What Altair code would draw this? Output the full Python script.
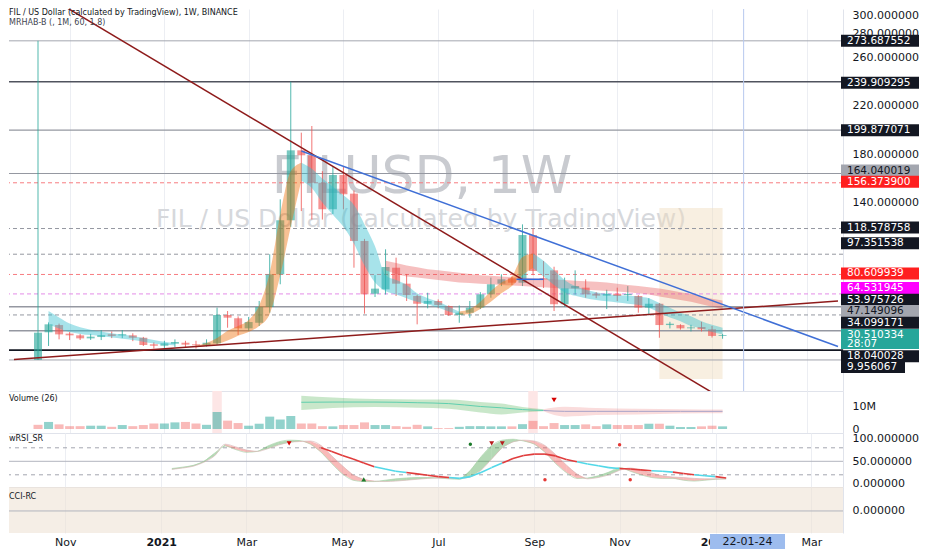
import altair as alt
import pandas as pd

# ------------------------------------------------------------------ data
FIRST_BAR = "2020-10-12"          # first weekly bar (Monday)

opens = [10.0, 32.8, 38.8, 31.7, 30.3, 27.8, 28.9, 31.2, 30.2, 30.3,
         28.3, 22.9, 21.7, 23.4, 24.2, 22.9, 22.3, 23.7, 47.1, 44.4,
         36.1, 40.7, 53.7, 80.7, 125.4, 183.2, 179.1, 156.4, 134.5, 162.8,
         147.4, 108.3, 64.7, 68.3, 86.2, 73.0, 62.8, 56.4, 58.7, 54.5,
         47.1, 49.0, 53.2, 64.2, 73.0, 77.4, 73.8, 113.2, 77.5, 84.0,
         56.0, 69.2, 69.7, 64.7, 63.1, 64.7, 63.5, 62.8, 53.2, 56.4,
         38.8, 38.8, 36.1, 37.2, 35.3, 29.8]
closes = [32.5, 39.4, 31.1, 30.3, 27.8, 29.2, 30.5, 29.8, 31.2, 28.3,
          22.3, 21.7, 23.7, 24.8, 22.6, 22.1, 24.2, 47.1, 44.9, 36.1,
          41.3, 53.7, 80.7, 125.4, 183.2, 179.1, 156.4, 134.5, 162.8, 146.9,
          108.3, 64.2, 68.9, 86.8, 73.0, 63.6, 56.4, 58.7, 55.4, 47.1,
          49.0, 53.2, 64.2, 72.5, 76.6, 73.8, 113.2, 83.5, 76.5, 56.0,
          69.2, 71.1, 64.2, 63.1, 64.7, 62.8, 64.5, 53.2, 56.4, 38.8,
          39.9, 36.1, 36.9, 35.3, 29.8, 30.51]
highs = [273.69, 41.0, 40.0, 33.0, 31.5, 31.5, 34.7, 33.5, 34.7, 32.0,
         29.0, 24.5, 25.8, 27.0, 25.8, 25.8, 27.0, 53.2, 50.4, 46.0,
         45.5, 58.7, 97.3, 142.7, 239.9, 197.8, 203.3, 166.0, 170.0, 170.0,
         150.0, 110.0, 80.0, 101.4, 94.5, 81.0, 64.0, 65.5, 60.0, 55.0,
         55.0, 58.7, 66.0, 78.0, 80.7, 79.0, 122.0, 118.6, 91.7, 87.0,
         78.0, 84.0, 76.6, 66.0, 68.0, 69.7, 71.0, 63.5, 61.0, 57.0,
         41.5, 39.5, 39.0, 41.5, 38.0, 31.5]
lows = [9.96, 21.5, 27.0, 26.4, 26.5, 26.5, 26.4, 28.0, 28.0, 25.5,
        21.5, 19.4, 19.4, 20.5, 20.5, 19.4, 21.0, 22.5, 36.6, 30.6,
        34.0, 38.0, 49.0, 72.5, 120.0, 133.0, 126.0, 126.0, 130.6, 134.5,
        86.2, 48.2, 62.0, 64.0, 62.8, 58.7, 39.4, 52.6, 52.6, 46.3,
        40.7, 44.9, 52.0, 61.4, 71.0, 72.0, 71.0, 80.0, 69.4, 50.4,
        54.0, 64.0, 61.4, 61.0, 52.0, 58.7, 58.7, 49.0, 47.0, 28.3,
        36.0, 35.0, 33.5, 33.5, 28.5, 27.5]

volumes_m = [1.9, 3.2, 2.1, 1.3, 1.3, 1.5, 1.5, 1.0, 1.8, 1.3,
             1.8, 2.5, 2.5, 3.0, 3.2, 2.5, 1.9, 7.7, 3.8, 2.7,
             1.5, 2.4, 5.6, 4.3, 5.9, 2.5, 2.5, 1.3, 1.2, 1.8,
             1.8, 3.0, 1.8, 1.8, 1.3, 1.0, 1.9, 1.2, 0.4, 0.4,
             1.0, 1.3, 1.3, 1.2, 1.2, 1.2, 2.2, 3.7, 1.3, 2.7,
             1.8, 1.8, 2.1, 1.3, 2.1, 1.8, 1.8, 1.8, 2.4, 2.4,
             1.5, 0.9, 0.9, 1.2, 1.5, 1.2]
vol_rising = [0, 1, 0, 0, 0, 1, 1, 0, 1, 0,
              0, 0, 1, 1, 0, 0, 1, 1, 0, 0,
              1, 1, 1, 1, 1, 0, 0, 0, 1, 0,
              0, 0, 1, 1, 0, 0, 0, 1, 0, 0,
              1, 1, 1, 1, 1, 0, 1, 0, 0, 0,
              1, 1, 0, 0, 1, 0, 0, 0, 1, 0,
              1, 1, 1, 0, 0, 1]

# fast MA ribbon segments (bar index, low edge, high edge)
rib_a_idx = list(range(1, 14))
rib_a_lo = [39.5, 36.0, 33.0, 31.5, 30.5, 29.5, 28.5, 27.5, 26.5, 25.0, 23.5, 22.5, 22.0]
rib_a_hi = [50.4, 45.0, 40.0, 37.0, 35.0, 33.5, 32.0, 31.0, 29.8, 28.0, 26.5, 25.0, 24.0]
rib_b_idx = list(range(15, 26))
rib_b_lo = [20.5, 21.5, 23.0, 26.0, 30.0, 33.0, 38.0, 48.0, 80.0, 120.0, 158.0]
rib_b_hi = [22.0, 24.0, 28.0, 34.0, 38.0, 43.0, 55.0, 82.0, 130.0, 166.0, 173.0]
rib_c_idx = list(range(25, 41))
rib_c_lo = [158, 152, 140, 130, 120, 106, 88, 74, 67, 64, 61, 58, 56, 53, 50, 47.5]
rib_c_hi = [173, 168, 160, 153, 146, 138, 122, 104, 80, 76, 72, 65, 61, 58, 54, 50]
rib_d_idx = list(range(40, 48))
rib_d_lo = [47.5, 48, 52, 58, 65, 71, 80, 86]
rib_d_hi = [50, 52, 58, 67, 74, 79, 95, 98]
rib_e_idx = list(range(47, 66))
rib_e_lo = [86, 79, 72, 66, 63, 61, 59.5, 58.5, 57.5, 56.5, 55.5, 53, 49, 45, 42, 38, 36, 33, 31]
rib_e_hi = [98, 92, 84, 76, 71, 68, 66, 64.5, 63.5, 63, 62.5, 61, 57, 53, 49, 46, 42, 39, 36.5]

# slow MA band
slow_idx = list(range(33, 66))
slow_lo = [84, 81, 79, 78, 77, 76, 75, 74, 73.5, 73, 72.5, 72, 71.5, 71, 70.5, 70, 69.5,
           69, 68.5, 68, 67.5, 67, 66.5, 66, 65, 64, 62.5, 61, 59.5, 58, 56, 54, 52]
slow_hi = [92, 90, 88, 86.5, 85, 84, 83, 82, 81, 80, 79.5, 79, 78.5, 78, 77.5, 77, 76.5,
           76, 75.5, 75, 74.5, 74, 73, 72, 71, 70, 69, 67.5, 66, 64.5, 62.5, 60.5, 59]

# horizontal price levels
level_values = [273.687552, 239.909295, 199.877071, 164.040019, 156.3739, 118.578758,
                97.351538, 80.609939, 64.531945, 53.975726, 47.149096, 34.099171,
                18.040028, 9.956067]
level_labels = ["273.687552", "239.909295", "199.877071", "164.040019", "156.373900",
                "118.578758", "97.351538", "80.609939", "64.531945", "53.975726",
                "47.149096", "34.099171", "18.040028", "9.956067"]
level_dashed = [False, False, False, False, True, True, True, True, True, False,
                True, False, False, False]
level_line_colors = ["#a3a6af", "#50535e", "#9598a1", "#9598a1", "#f77c80", "#9598a1",
                     "#9598a1", "#f77c80", "#e58ce8", "#9598a1", "#9598a1", "#9598a1",
                     "#131722", "#a3a6af"]
level_line_widths = [1, 1.6, 1.4, 1, 1, 1, 1, 1, 1, 1.4, 1, 1.4, 1.6, 1]
level_box_colors = ["#131722", "#131722", "#131722", "#a3a6af", "#ff1f1f", "#131722",
                    "#131722", "#ff1f1f", "#ff00ff", "#131722", "#a3a6af", "#131722",
                    "#131722", "#131722"]
level_text_colors = ["#ffffff", "#ffffff", "#ffffff", "#131722", "#ffffff", "#ffffff",
                     "#ffffff", "#ffffff", "#ffffff", "#ffffff", "#131722", "#ffffff",
                     "#ffffff", "#ffffff"]
level_label_shift_px = [0, 1, 0, -3, -1, -1, -11, -1, -6, -7, -4, -8, 6, 7]

last_price = 30.510334
last_price_label = "30.510334"
countdown_label = "28:07"

# trend lines (two anchors each)
trend_a_dates = ["2021-04-05", "2020-10-12", "2021-04-05", "2021-08-26"]
trend_a_prices = [185.5, 11.8, 182.6, 76.6]
trend_b_dates = ["2021-12-27", "2022-01-10", "2022-01-10", "2021-09-13"]
trend_b_prices = [-11.7, 51.9, 55.8, 76.6]
trend_colors = ["#8e1b1b", "#8e1b1b", "#3f6fd6", "#2f6ae0"]
trend_extend_left = [True, True, False, False]
trend_extend_right = [True, True, True, False]

highlight_box = {"from_bar": 59, "to_bar": 65, "low": -5.8, "high": 135.5}
crosshair_bar = 67
crosshair_label = "22-01-24"

# volume MA bands
vb_green_idx = [25, 28, 32, 36, 39, 42, 44, 46, 48]
vb_green_lo = [8.6, 9.5, 10.0, 9.6, 9.2, 7.5, 6.6, 7.5, 8.0]
vb_green_hi = [15.1, 14.3, 13.6, 13.4, 13.3, 12.2, 11.5, 10.0, 9.0]
vb_green_mid = [12.1, 12.2, 12.2, 11.9, 11.5, 10.2, 9.6, 8.8, 8.4]
vb_pink_idx = [48, 50, 53, 57, 61, 65]
vb_pink_lo = [8.0, 5.6, 6.3, 6.6, 7.0, 7.1]
vb_pink_hi = [9.0, 10.1, 9.5, 9.2, 9.0, 8.8]
vb_pink_mid = [8.4, 8.0, 8.0, 8.0, 8.0, 8.0]
vol_highlight_bars = [17, 47]
vol_marker = {"bar": 49, "value": 13.1}

# wRSI
rsi_idx = list(range(13, 66))
rsi_fast = [34, 37, 41, 50, 68, 84, 76, 70, 72, 84, 93, 97, 96, 88, 70, 45, 22, 8, 5, 5,
            8, 11, 13, 14, 14, 13, 11, 10, 30, 60, 85, 97, 99, 95, 88, 70, 45, 25, 12, 13,
            18, 26, 36, 28, 20, 14, 12, 12, 8, 6, 8, 10, 11]
rsi_slow = [32, 35, 39, 48, 62, 88, 82, 75, 72, 78, 86, 92, 94, 95, 85, 62, 40, 20, 10, 6,
            5, 6, 8, 10, 12, 13, 13, 12, 15, 30, 55, 80, 93, 97, 95, 85, 65, 42, 22, 11,
            14, 20, 30, 35, 30, 24, 18, 15, 14, 12, 11, 11, 11]
sig_idx = list(range(27, 66))
sig_vals = [80, 72, 63, 55, 46, 38, 33, 28, 25, 22, 19, 16, 14, 12, 16, 25, 36, 46, 56, 63,
            66, 66, 62, 54, 49, 44, 40, 36, 34, 33, 31, 29, 28, 26, 23, 20, 18, 16, 13]
sig_seg_colors = (["r"] * 5 + ["c"] * 3 + ["r"] * 4 + ["c"] * 5 + ["r"] * 7 + ["c"] * 4 +
                  ["r"] * 3 + ["c"] * 2 + ["r"] * 2 + ["c"] * 2 + ["r"] * 1)
rsi_mark_bars = [24, 31, 41, 43, 44, 48, 55, 56]
rsi_mark_vals = [90, 10, 88, 90, 90, 9, 87, 9]
rsi_mark_shapes = ["triangle-down", "triangle-up", "circle", "triangle-down",
                   "triangle-down", "circle", "circle", "circle"]
rsi_mark_colors = ["#d50000", "#1b7a2a", "#1b7a2a", "#b71c1c", "#b71c1c",
                   "#e53935", "#e53935", "#e53935"]

month_ticks = ["2020-11-02", "2021-01-04", "2021-03-01", "2021-05-03", "2021-07-05",
               "2021-09-06", "2021-11-01", "2022-01-03", "2022-03-07"]
price_ticks = [140, 180, 220, 260, 280, 300]

TITLE1 = "FIL / US Dollar (calculated by TradingView), 1W, BINANCE"
TITLE2 = "MRHAB-B (, 1M, 60, 1.8)"
WATERMARK1 = "FILUSD, 1W"
WATERMARK2 = "FIL / US Dollar (calculated by TradingView)"

# ------------------------------------------------------------------ helpers / style
FONT = "DejaVu Sans"
TXT = "#131722"
GRID = "#eceef3"
SEP = "#e0e3eb"
GREEN = "#26a69a"
RED = "#ef5350"

W = 834
H_MAIN, H_VOL, H_RSI, H_CCI = 382, 42, 54, 46
P_DOM = [-15.7, 300.0]
V_DOM = [-1.8, 17.2]
R_DOM = [-7.1, 112.9]
C_DOM = [-92.0, 100.0]
X_BAR_RANGE = [-2.28, 75.96]

BASE = pd.Timestamp(FIRST_BAR)


def bar_ms(i):
    return int((BASE + pd.Timedelta(days=7 * i)).value // 1_000_000)


def day_ms(s):
    return int(pd.Timestamp(s).value // 1_000_000)


X0, X1 = bar_ms(X_BAR_RANGE[0]), bar_ms(X_BAR_RANGE[1])
xscale = alt.Scale(type="utc", domain=[X0, X1], nice=False)
tick_ms = [day_ms(d) for d in month_ticks]


def xhid():
    return alt.Axis(values=tick_ms, labels=False, ticks=False, domain=True,
                    domainColor=SEP, grid=True, gridColor=GRID, title=None)


def xbottom():
    return alt.Axis(values=tick_ms,
                    labelExpr="utcmonth(datum.value) == 0 ? utcFormat(datum.value, '%Y') : utcFormat(datum.value, '%b')",
                    labelFontWeight={"condition": {"test": "utcmonth(datum.value) == 0", "value": "bold"},
                                     "value": "normal"},
                    ticks=False, domain=False, grid=True, gridColor=GRID,
                    labelFont=FONT, labelFontSize=11, labelColor=TXT, labelPadding=3,
                    labelOverlap=False, labelFlush=False, title=None)


def yaxis(values, fmt=None, expr=None, flush=False):
    kw = dict(orient="right", values=values, ticks=False, grid=False, domain=True,
              domainColor=SEP, labelPadding=9, labelFont=FONT, labelFontSize=11,
              labelColor=TXT, title=None, labelFlush=flush, labelOverlap=False)
    if fmt:
        kw["format"] = fmt
    if expr:
        kw["labelExpr"] = expr
    return alt.Axis(**kw)


pscale = alt.Scale(domain=P_DOM, nice=False, zero=False)
vscale = alt.Scale(domain=V_DOM, nice=False, zero=False)
rscale = alt.Scale(domain=R_DOM, nice=False, zero=False)
cscale = alt.Scale(domain=C_DOM, nice=False, zero=False)

paxis = yaxis(price_ticks, fmt=".6f", flush=True)
vaxis = yaxis([0, 10], expr="datum.value == 0 ? '0' : datum.value + 'M'")
raxis = yaxis([0, 50, 100], fmt=".6f")
caxis = yaxis([0], fmt=".6f")


def X(field, axis_fn=xhid):
    return alt.X(field, type="temporal", scale=xscale, axis=axis_fn(), title=None)


def YP(field):
    return alt.Y(field, type="quantitative", scale=pscale, axis=paxis, stack=None)


def YV(field):
    return alt.Y(field, type="quantitative", scale=vscale, axis=vaxis, stack=None)


def YR(field):
    return alt.Y(field, type="quantitative", scale=rscale, axis=raxis, stack=None)


def one(**kw):
    return pd.DataFrame({k: [v] for k, v in kw.items()})


# ------------------------------------------------------------------ main panel
n = len(opens)
cd = pd.DataFrame({"t": [bar_ms(i) for i in range(n)], "o": opens, "h": highs,
                   "l": lows, "c": closes})
cd["col"] = [GREEN if c >= o else RED for o, c in zip(opens, closes)]

wm1 = alt.Chart(one(txt=WATERMARK1)).mark_text(
    font=FONT, fontSize=52, color="#c9cbd0", align="center", baseline="middle"
).encode(x=alt.value(413), y=alt.value(168), text="txt:N")
wm2 = alt.Chart(one(txt=WATERMARK2)).mark_text(
    font=FONT, fontSize=25, color="#d6d8dc", align="center", baseline="middle"
).encode(x=alt.value(412), y=alt.value(210), text="txt:N")

hb = one(t=bar_ms(highlight_box["from_bar"]), t2=bar_ms(highlight_box["to_bar"]),
         p=highlight_box["low"], p2=highlight_box["high"])
hbox = alt.Chart(hb).mark_rect(color="#f0dcbc", opacity=0.45).encode(
    x=X("t"), x2="t2:T", y=YP("p"), y2="p2:Q")

lv = pd.DataFrame({"p": level_values, "col": level_line_colors, "w": level_line_widths,
                   "dash": level_dashed})
lv_solid = alt.Chart(lv[~lv["dash"]]).mark_rule().encode(
    y=YP("p"), color=alt.Color("col:N", scale=None), size=alt.Size("w:Q", scale=None))
lv_dash = alt.Chart(lv[lv["dash"]]).mark_rule(strokeDash=[4, 3]).encode(
    y=YP("p"), color=alt.Color("col:N", scale=None), size=alt.Size("w:Q", scale=None))

wicks = alt.Chart(cd).mark_rule(strokeWidth=1, opacity=0.8).encode(
    x=X("t"), y=YP("l"), y2="h:Q", color=alt.Color("col:N", scale=None))
bodies = alt.Chart(cd).mark_bar(size=8, opacity=0.62).encode(
    x=X("t"), y=YP("o"), y2="c:Q", color=alt.Color("col:N", scale=None))

slow_df = pd.DataFrame({"t": [bar_ms(i) for i in slow_idx], "lo": slow_lo, "hi": slow_hi})
slow_band = alt.Chart(slow_df).mark_area(color="#e65050", opacity=0.36).encode(
    x=X("t"), y=YP("lo"), y2="hi:Q")

rib_rows = []
for seg, (idx, lo, hi, col) in enumerate([
        (rib_a_idx, rib_a_lo, rib_a_hi, "#2dbdcd"),
        (rib_b_idx, rib_b_lo, rib_b_hi, "#ef6c00"),
        (rib_c_idx, rib_c_lo, rib_c_hi, "#2dbdcd"),
        (rib_d_idx, rib_d_lo, rib_d_hi, "#ef6c00"),
        (rib_e_idx, rib_e_lo, rib_e_hi, "#2dbdcd")]):
    for i, a, b in zip(idx, lo, hi):
        rib_rows.append({"t": bar_ms(i), "lo": a, "hi": b, "seg": seg, "col": col})
rib_df = pd.DataFrame(rib_rows)
ribbon = alt.Chart(rib_df).mark_area(opacity=0.42, interpolate="monotone").encode(
    x=X("t"), y=YP("lo"), y2="hi:Q", color=alt.Color("col:N", scale=None),
    detail="seg:N")

tr_rows = []
for da, pa, db, pb, col, el, er in zip(trend_a_dates, trend_a_prices, trend_b_dates,
                                        trend_b_prices, trend_colors, trend_extend_left,
                                        trend_extend_right):
    ta, tb = day_ms(da), day_ms(db)
    slope = (pb - pa) / (tb - ta)
    t0 = X0 if el else ta
    t1 = X1 if er else tb
    tr_rows.append({"t": t0, "p": pa + slope * (t0 - ta), "t2": t1,
                    "p2": pa + slope * (t1 - ta), "col": col})
trends = alt.Chart(pd.DataFrame(tr_rows)).mark_rule(strokeWidth=1.5, clip=True).encode(
    x=X("t"), x2="t2:T", y=YP("p"), y2="p2:Q", color=alt.Color("col:N", scale=None))

cross = alt.Chart(one(t=bar_ms(crosshair_bar))).mark_rule(
    color="#b7c8ee", strokeWidth=1).encode(x=X("t"))

title1 = alt.Chart(one(txt=TITLE1)).mark_text(
    font=FONT, fontSize=8, color=TXT, align="left", baseline="top"
).encode(x=alt.value(0), y=alt.value(0), text="txt:N")
title2 = alt.Chart(one(txt=TITLE2)).mark_text(
    font=FONT, fontSize=8, color="#434651", align="left", baseline="top"
).encode(x=alt.value(0), y=alt.value(10), text="txt:N")

PPP = (P_DOM[1] - P_DOM[0]) / H_MAIN  # price units per pixel
pb_df = pd.DataFrame({"p": level_values, "lab": level_labels, "bg": level_box_colors,
                      "fg": level_text_colors, "shift": level_label_shift_px})
pb_df["disp"] = pb_df["p"] - pb_df["shift"] * PPP
pb_df["lo"] = pb_df["disp"] - 6 * PPP
pb_df["hi"] = pb_df["disp"] + 6 * PPP
pb_df["nlen"] = pb_df["lab"].str.len()
boxes_wide = alt.Chart(pb_df[pb_df["nlen"] >= 9]).mark_rect().encode(
    x=alt.value(832), x2=alt.value(910), y=YP("lo"), y2="hi:Q",
    color=alt.Color("bg:N", scale=None))
boxes_narrow = alt.Chart(pb_df[pb_df["nlen"] < 9]).mark_rect().encode(
    x=alt.value(832), x2=alt.value(896), y=YP("lo"), y2="hi:Q",
    color=alt.Color("bg:N", scale=None))
box_text = alt.Chart(pb_df).mark_text(
    font=FONT, fontSize=10.5, align="left", baseline="middle").encode(
    x=alt.value(838), y=YP("disp"), text="lab:N", color=alt.Color("fg:N", scale=None))

lp = pd.DataFrame({"lo": [last_price - 14 * PPP], "hi": [last_price + 6 * PPP]})
last_box = alt.Chart(lp).mark_rect(color=GREEN).encode(
    x=alt.value(832), x2=alt.value(910), y=YP("lo"), y2="hi:Q")
lt = pd.DataFrame({"p": [last_price, last_price - 8.5 * PPP],
                   "lab": [last_price_label, countdown_label]})
last_text = alt.Chart(lt).mark_text(
    font=FONT, fontSize=10.5, align="left", baseline="middle", color="#ffffff").encode(
    x=alt.value(838), y=YP("p"), text="lab:N")

main = alt.layer(wm1, wm2, hbox, lv_solid, lv_dash, wicks, bodies, slow_band, ribbon,
                 trends, cross, title1, title2, boxes_wide, boxes_narrow, box_text,
                 last_box, last_text).properties(width=W, height=H_MAIN)

# ------------------------------------------------------------------ volume panel
vd = pd.DataFrame({"t": [bar_ms(i) for i in range(n)], "v": volumes_m})
vd["col"] = [GREEN if r else RED for r in vol_rising]
vd["op"] = [0.5 if r else 0.4 for r in vol_rising]
hl = pd.DataFrame({"t": [bar_ms(b - 0.45) for b in vol_highlight_bars],
                   "t2": [bar_ms(b + 0.45) for b in vol_highlight_bars]})
vol_hl = alt.Chart(hl).mark_rect(color="#fde6e6").encode(
    x=X("t"), x2="t2:T", y=alt.value(0), y2=alt.value(H_VOL))
vol_bars = alt.Chart(vd).mark_bar(size=9).encode(
    x=X("t"), y=YV("v"), color=alt.Color("col:N", scale=None),
    opacity=alt.Opacity("op:Q", scale=None))
vb_rows = []
for seg, (idx, lo, hi, mid, fill, line) in enumerate([
        (vb_green_idx, vb_green_lo, vb_green_hi, vb_green_mid, "#4caf50", "#5fcfae"),
        (vb_pink_idx, vb_pink_lo, vb_pink_hi, vb_pink_mid, "#ef8a8a", "#a8a3c8")]):
    for i, a, b, m in zip(idx, lo, hi, mid):
        vb_rows.append({"t": bar_ms(i), "lo": a, "hi": b, "mid": m, "seg": seg,
                        "fill": fill, "line": line})
vb_df = pd.DataFrame(vb_rows)
vol_band = alt.Chart(vb_df).mark_area(opacity=0.3, interpolate="monotone").encode(
    x=X("t"), y=YV("lo"), y2="hi:Q", color=alt.Color("fill:N", scale=None),
    detail="seg:N")
vol_mid = alt.Chart(vb_df).mark_line(strokeWidth=1, interpolate="monotone").encode(
    x=X("t"), y=YV("mid"), color=alt.Color("line:N", scale=None), detail="seg:N")
vol_mk = alt.Chart(one(t=bar_ms(vol_marker["bar"]), v=vol_marker["value"])).mark_point(
    shape="triangle-down", filled=True, size=28, color="#d50000", opacity=1).encode(
    x=X("t"), y=YV("v"))
vol_lab = alt.Chart(one(txt="Volume (26)")).mark_text(
    font=FONT, fontSize=8, color=TXT, align="left", baseline="middle").encode(
    x=alt.value(0), y=alt.value(8), text="txt:N")
vol = alt.layer(vol_hl, vol_bars, vol_band, vol_mid, vol_mk, vol_lab).properties(
    width=W, height=H_VOL)

# ------------------------------------------------------------------ wRSI panel
rl = pd.DataFrame({"v": [80, 20]})
r_dash = alt.Chart(rl).mark_rule(strokeDash=[4, 4], color="#a3a6af", strokeWidth=1).encode(
    y=YR("v"))
r_mid = alt.Chart(one(v=50)).mark_rule(color="#b2b5be", strokeWidth=1).encode(y=YR("v"))

rr = []
for k in range(len(rsi_idx) - 1):
    up = (rsi_fast[k] + rsi_fast[k + 1]) >= (rsi_slow[k] + rsi_slow[k + 1])
    for j in (k, k + 1):
        rr.append({"t": bar_ms(rsi_idx[j]), "a": rsi_fast[j], "b": rsi_slow[j],
                   "seg": k, "col": "#43a047" if up else "#ef5350"})
rr_df = pd.DataFrame(rr)
r_fill = alt.Chart(rr_df).mark_area(opacity=0.4).encode(
    x=X("t"), y=YR("a"), y2="b:Q", color=alt.Color("col:N", scale=None), detail="seg:N")
rlines = pd.DataFrame({"t": [bar_ms(i) for i in rsi_idx], "f": rsi_fast, "s": rsi_slow})
r_fast = alt.Chart(rlines).mark_line(strokeWidth=0.8, color="#a5cfa5", opacity=0.8,
                                     interpolate="monotone").encode(x=X("t"), y=YR("f"))
r_slow = alt.Chart(rlines).mark_line(strokeWidth=0.8, color="#d7b5b5", opacity=0.8,
                                     interpolate="monotone").encode(x=X("t"), y=YR("s"))
sg = []
for k in range(len(sig_idx) - 1):
    sg.append({"t": bar_ms(sig_idx[k]), "t2": bar_ms(sig_idx[k + 1]),
               "v": sig_vals[k], "v2": sig_vals[k + 1],
               "col": "#e03c3c" if sig_seg_colors[k] == "r" else "#52d8e8"})
r_sig = alt.Chart(pd.DataFrame(sg)).mark_rule(strokeWidth=1.6).encode(
    x=X("t"), x2="t2:T", y=YR("v"), y2="v2:Q", color=alt.Color("col:N", scale=None))
mk = pd.DataFrame({"t": [bar_ms(b) for b in rsi_mark_bars], "v": rsi_mark_vals,
                   "shape": rsi_mark_shapes, "col": rsi_mark_colors})
mk["sz"] = [24 if s.startswith("triangle") else 12 for s in rsi_mark_shapes]
r_mk = alt.Chart(mk).mark_point(filled=True, opacity=1).encode(
    x=X("t"), y=YR("v"), shape=alt.Shape("shape:N", scale=None),
    color=alt.Color("col:N", scale=None), size=alt.Size("sz:Q", scale=None))
r_lab = alt.Chart(one(txt="wRSI_SR")).mark_text(
    font=FONT, fontSize=8, color=TXT, align="left", baseline="middle").encode(
    x=alt.value(0), y=alt.value(6), text="txt:N")
rsi = alt.layer(r_dash, r_mid, r_fill, r_fast, r_slow, r_sig, r_mk, r_lab).properties(
    width=W, height=H_RSI)

# ------------------------------------------------------------------ CCI panel
c_bg = alt.Chart(one(t=X0, t2=X1)).mark_rect(color="#efe3d6", opacity=0.6).encode(
    x=X("t", xbottom), x2="t2:T", y=alt.value(0), y2=alt.value(H_CCI))
c_zero = alt.Chart(one(v=0)).mark_rule(color="#b2b5be", strokeWidth=1).encode(
    y=alt.Y("v:Q", scale=cscale, axis=caxis))
c_lab = alt.Chart(one(txt="CCI-RC")).mark_text(
    font=FONT, fontSize=8, color=TXT, align="left", baseline="middle").encode(
    x=alt.value(0), y=alt.value(10), text="txt:N")
d_box = alt.Chart(one(t=bar_ms(crosshair_bar - 3.52), t2=bar_ms(crosshair_bar + 3.52))).mark_rect(
    color="#9dbcee").encode(x=X("t", xbottom), x2="t2:T", y=alt.value(47), y2=alt.value(62))
d_txt = alt.Chart(one(t=bar_ms(crosshair_bar), txt=crosshair_label)).mark_text(
    font=FONT, fontSize=11, color=TXT, align="center", baseline="middle").encode(
    x=X("t", xbottom), y=alt.value(54.5), text="txt:N")
cci = alt.layer(c_bg, c_zero, c_lab, d_box, d_txt).properties(width=W, height=H_CCI)

chart = alt.vconcat(main, vol, rsi, cci, spacing=0, bounds="flush").properties(
    padding=0
).configure_view(stroke=None)

chart.save("out.html", embed_options={"renderer": "svg", "actions": False})
